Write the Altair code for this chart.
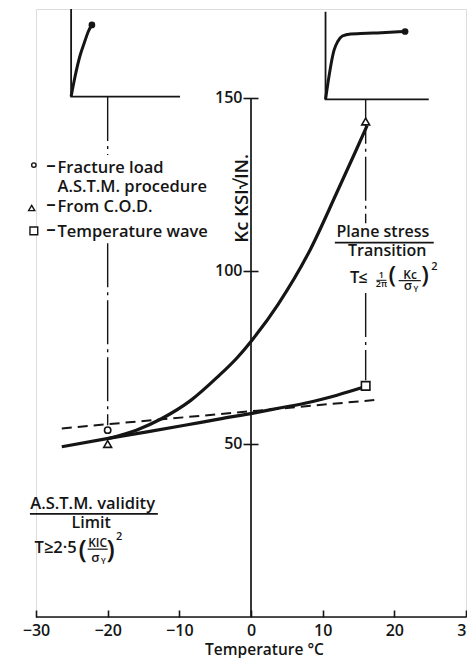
import altair as alt
import pandas as pd

INK = "#151515"
FONT = "Open Sans"

# ---- main curves (Temperature degC, Kc ksi sqrt(in)) ----
lower_x = [-26.4, -19.9, -14.5, -9.25, -4.5, 0.5, 4.0, 8.0, 12.0, 16.0]
lower_y = [49.2, 51.6, 53.5, 55.4, 57.2, 59.0, 60.4, 62.0, 64.1, 66.6]
steep_x = [-19.9, -16, -12.5, -8.4, -4.7, -1.9, 0.33, 3.76, 8.3, 11.9, 14.6, 16.2]
steep_y = [51.6, 54.0, 57.3, 62.6, 69.3, 75.0, 80.5, 90.3, 106.3, 122.3, 134.6, 142.0]
dashed_x = [-26.4, 17.2]
dashed_y = [54.5, 62.7]

# ---- measured points ----
pt_shape = ["circle", "triangle-up", "triangle-up", "square"]
pt_x = [-20, -20, 16, 16]
pt_y = [54.0, 50.0, 143.2, 66.8]
pt_size = [40, 62, 62, 72]

# ---- legend ----
leg_shape = ["circle", "triangle-up", "square"]
leg_x = [-30.3, -30.6, -30.3]
leg_y = [130.6, 118.2, 111.6]
leg_size = [20, 38, 60]
leg_dash_x = [-27.9, -27.9, -27.9]
leg_dash_y = [129.0, 117.5, 110.3]
leg_text = ["Fracture load", "A.S.T.M. procedure", "From C.O.D.", "Temperature wave"]
leg_text_x = [-27.0, -27.0, -27.0, -27.0]
leg_text_y = [128.4, 122.7, 117.0, 109.7]

# ---- dash-dot verticals ----
dd_x = [-20, -20, 16, 16]
dd_top = [150.3, 108.0, 149.5, 93.6]
dd_bot = [133.5, 55.4, 113.8, 68.4]

# ---- inset sketches (load-displacement) ----
inset_axes_id = ["L", "L", "L", "R", "R", "R"]
inset_axes_x = [-25.1, -25.1, -9.9, 10.4, 10.4, 24.8]
inset_axes_y = [175.7, 150.4, 150.4, 174.9, 149.6, 149.6]
inset_l_x = [-25.1, -24.55, -23.9, -23.2, -22.7, -22.2]
inset_l_y = [150.4, 156.2, 161.9, 166.3, 169.2, 171.1]
inset_r_x = [10.4, 11.6, 12.1, 12.75, 13.9, 15.3, 17.6, 21.5]
inset_r_y = [149.6, 163.9, 166.3, 167.9, 168.5, 168.6, 168.8, 169.2]
inset_dot_x = [-22.2, 21.5]
inset_dot_y = [171.1, 169.2]

# ---- annotation texts ----
c_text = ["Plane stress", "Transition", "\u2264", "1", "2\u03c0", "(", "Kc", "\u03c3", "Y", ")", "2",
          "A.S.T.M. validity", "Limit", "(", "KIC", "\u03c3", "Y", ")", "2"]
c_x = [18.4, 19.0, 15.6, 18.2, 18.2, 19.7, 22.2, 21.9, 23.0, 24.3, 25.6,
       -22.1, -22.3, -23.5, -21.4, -21.7, -20.6, -19.6, -18.4]
c_y = [109.7, 104.3, 96.6, 97.9, 95.4, 96.4, 97.8, 94.4, 93.9, 96.4, 100.3,
       31.2, 25.6, 17.0, 20.1, 15.9, 15.3, 17.0, 22.3]
c_size = [16, 16, 16, 9, 9, 24, 12, 13, 8, 24, 11,
          16.5, 16, 26, 12, 13, 8, 26, 11]
l_text = ["T", "T\u22652\u00b75"]
l_x = [13.8, -30.2]
l_y = [96.6, 18.4]
l_size = [16.5, 16.5]

bar_x = [11.7, 17.5, 20.6, -30.85, -22.8]
bar_x2 = [25.5, 18.9, 23.7, -13.0, -20.0]
bar_y = [108.2, 97.3, 97.2, 29.8, 19.6]
bar_w = [1.8, 1.0, 1.2, 1.8, 1.2]

ytitle = "Kc KSI\u221aIN."
ytitle_x = -1.3
ytitle_y = 121.0

x_ticks = [-30, -20, -10, 0, 10, 20, 30]
y_ticks = [50, 100, 150]

# ---------------------------------------------------------------
xs = alt.Scale(domain=[-30, 30], nice=False, zero=False)
ys = alt.Scale(domain=[0, 175.7], nice=False, zero=False)

xaxis = alt.Axis(values=x_ticks, offset=-7, domain=False, grid=False, tickSize=7,
                 tickWidth=1.6, tickColor=INK, labelPadding=5, labelFontSize=16,
                 labelColor=INK, labelFontWeight=600, labelFlush=False, format="d",
                 title="Temperature \u00b0C", titleX=228, titleY=44,
                 titleBaseline="alphabetic", titleFontSize=15.5, titleFontWeight=600,
                 titleColor=INK)
yaxis = alt.Axis(values=y_ticks, offset=-222, domain=False, grid=False, tickSize=15,
                 tickWidth=1.6, tickColor=INK, labelPadding=1, labelFontSize=16,
                 labelColor=INK, labelFontWeight=600, format="d", title="")


def X(f="x"):
    return alt.X(f"{f}:Q", scale=xs, axis=xaxis, title="Temperature \u00b0C")


def Y(f="y"):
    return alt.Y(f"{f}:Q", scale=ys, axis=yaxis, title="")


# axis lines
axes_df = pd.DataFrame({"x": [-30, 0], "x2": [30, 0], "y": [0, 0], "y2": [0, 150]})
axes_layer = alt.Chart(axes_df).mark_rule(color=INK, strokeWidth=1.7).encode(
    x=X(), x2="x2:Q", y=Y(), y2="y2:Q")

curves_df = pd.concat([
    pd.DataFrame({"x": lower_x, "y": lower_y, "s": "lower", "o": range(len(lower_x))}),
    pd.DataFrame({"x": steep_x, "y": steep_y, "s": "steep", "o": range(len(steep_x))}),
])
curves = alt.Chart(curves_df).mark_line(color=INK, strokeWidth=3.2, interpolate="monotone").encode(
    x=X(), y=Y(), detail="s:N", order="o:Q")

dashed = alt.Chart(pd.DataFrame({"x": dashed_x, "y": dashed_y})).mark_line(
    color=INK, strokeWidth=2, strokeDash=[10, 6]).encode(x=X(), y=Y())

dd = alt.Chart(pd.DataFrame({"x": dd_x, "y": dd_top, "y2": dd_bot})).mark_rule(
    color=INK, strokeWidth=1.4, strokeDash=[44, 5, 3, 5]).encode(x=X(), y=Y(), y2="y2:Q")

inset_ax = alt.Chart(pd.DataFrame({"x": inset_axes_x, "y": inset_axes_y, "id": inset_axes_id,
                                   "o": list(range(6))})).mark_line(
    color=INK, strokeWidth=1.8).encode(x=X(), y=Y(), detail="id:N", order="o:Q")

inset_df = pd.concat([
    pd.DataFrame({"x": inset_l_x, "y": inset_l_y, "s": "L", "o": range(len(inset_l_x))}),
    pd.DataFrame({"x": inset_r_x, "y": inset_r_y, "s": "R", "o": range(len(inset_r_x))}),
])
inset_curves = alt.Chart(inset_df).mark_line(color=INK, strokeWidth=3, interpolate="monotone").encode(
    x=X(), y=Y(), detail="s:N", order="o:Q")
inset_dots = alt.Chart(pd.DataFrame({"x": inset_dot_x, "y": inset_dot_y})).mark_point(
    filled=True, color=INK, size=45, opacity=1).encode(x=X(), y=Y())

shape_scale = alt.Scale(domain=["circle", "triangle-up", "square"],
                        range=["circle", "triangle-up", "square"])
pts = alt.Chart(pd.DataFrame({"x": pt_x, "y": pt_y, "sh": pt_shape, "sz": pt_size})).mark_point(
    filled=True, fill="white", stroke=INK, strokeWidth=1.6, opacity=1).encode(
    x=X(), y=Y(), shape=alt.Shape("sh:N", scale=shape_scale, legend=None),
    size=alt.Size("sz:Q", scale=None))
legpts = alt.Chart(pd.DataFrame({"x": leg_x, "y": leg_y, "sh": leg_shape, "sz": leg_size})).mark_point(
    filled=True, fill="white", stroke=INK, strokeWidth=1.4, opacity=1).encode(
    x=X(), y=Y(), shape=alt.Shape("sh:N", scale=shape_scale, legend=None),
    size=alt.Size("sz:Q", scale=None))

legdash = alt.Chart(pd.DataFrame({"x": leg_dash_x, "y": leg_dash_y, "t": ["\u2013"] * 3})).mark_text(
    align="center", baseline="alphabetic", font=FONT, fontSize=19, fontWeight=600, color=INK).encode(
    x=X(), y=Y(), text="t:N")
legtext = alt.Chart(pd.DataFrame({"x": leg_text_x, "y": leg_text_y, "t": leg_text})).mark_text(
    align="left", baseline="alphabetic", font=FONT, fontSize=16.5, fontWeight=600, color=INK).encode(
    x=X(), y=Y(), text="t:N")

ctext = alt.Chart(pd.DataFrame({"x": c_x, "y": c_y, "t": c_text, "s": c_size})).mark_text(
    align="center", baseline="alphabetic", font=FONT, fontWeight=600, color=INK).encode(
    x=X(), y=Y(), text="t:N", size=alt.Size("s:Q", scale=None))
ltext = alt.Chart(pd.DataFrame({"x": l_x, "y": l_y, "t": l_text, "s": l_size})).mark_text(
    align="left", baseline="alphabetic", font=FONT, fontWeight=600, color=INK).encode(
    x=X(), y=Y(), text="t:N", size=alt.Size("s:Q", scale=None))

bars = alt.Chart(pd.DataFrame({"x": bar_x, "x2": bar_x2, "y": bar_y, "w": bar_w})).mark_rule(
    color=INK).encode(x=X(), x2="x2:Q", y=Y(), strokeWidth=alt.StrokeWidth("w:Q", scale=None))

ytl = alt.Chart(pd.DataFrame({"x": [ytitle_x], "y": [ytitle_y], "t": [ytitle]})).mark_text(
    align="center", baseline="middle", angle=270, font=FONT, fontSize=18.5, fontWeight=600,
    color=INK).encode(x=X(), y=Y(), text="t:N")

chart = alt.layer(
    axes_layer, dd, inset_ax, inset_curves, inset_dots, dashed, curves, pts, legpts,
    legdash, legtext, ctext, ltext, bars, ytl
).properties(
    width=430, height=608,
    padding={"left": 28, "top": 1, "right": 1, "bottom": 41},
    autosize=alt.AutoSizeParams(type="none"),
    background="white",
).configure_view(stroke=None).configure(font=FONT)

chart.save("out.html", embed_options={"renderer": "svg", "actions": False})
